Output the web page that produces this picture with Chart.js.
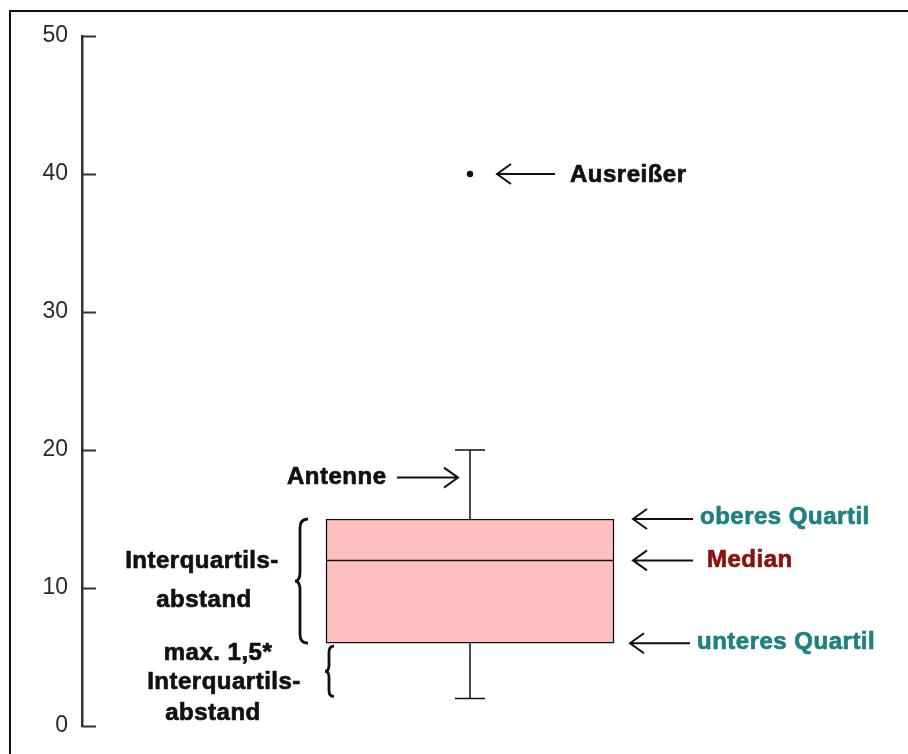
<!DOCTYPE html>
<html><head><meta charset="utf-8">
<script src="https://cdn.jsdelivr.net/npm/chart.js@4"></script>
<style>
html,body{margin:0;padding:0;background:#fff;overflow:hidden;}
#wrap{position:relative;width:908px;height:754px;overflow:hidden;}
#frame{position:absolute;left:9px;top:10px;width:1000px;height:1000px;border-left:2px solid #111;border-top:2px solid #111;pointer-events:none;}
canvas{position:absolute;left:0;top:0;}
</style></head>
<body><div id="wrap"><canvas id="c" width="908" height="754"></canvas><div id="frame"></div></div>
<script>
// ---- data ----
const categories = ['Daten'];
const minimum = [2];
const q1 = [6];
const median = [12];
const q3 = [15];
const maximum = [20];
const outliers = [40];
const yTicks = [0, 10, 20, 30, 40, 50];
// annotation labels and the values they point at
const rightLabels = ['oberes Quartil', 'Median', 'unteres Quartil'];
const rightValues = [15, 12, 6];
const outlierLabel = 'Ausreißer';
const whiskerLabel = 'Antenne';
const whiskerLabelValue = 18;
const iqrLabel = ['Interquartils-', 'abstand'];
const whiskerRangeLabel = ['max. 1,5*', 'Interquartils-', 'abstand'];

// ---- styles / layout ----
const TEAL = '#1f8080', DARKRED = '#8b1010', INK = '#111';
const BOLD = 'bold 24px "Liberation Sans", Arial, sans-serif';

function arrow(ctx, xTail, xHead, y) {
  const dir = Math.sign(xHead - xTail);
  ctx.beginPath();
  ctx.moveTo(xTail, y); ctx.lineTo(xHead, y);
  ctx.moveTo(xHead - dir * 14, y - 10); ctx.lineTo(xHead, y); ctx.lineTo(xHead - dir * 14, y + 10);
  ctx.stroke();
}
function brace(ctx, x, y1, y2, h, d, r) {
  const ym = (y1 + y2) / 2;
  ctx.beginPath();
  ctx.moveTo(x + h, y1);
  ctx.quadraticCurveTo(x, y1, x, y1 + r);
  ctx.lineTo(x, ym - r);
  ctx.quadraticCurveTo(x, ym, x - d, ym);
  ctx.quadraticCurveTo(x, ym, x, ym + r);
  ctx.lineTo(x, y2 - r);
  ctx.quadraticCurveTo(x, y2, x + h, y2);
  ctx.stroke();
}
function label(ctx, text, x, y, color) {
  ctx.fillStyle = color; ctx.strokeStyle = color;
  ctx.fillText(text, x, y);
  ctx.strokeText(text, x, y);
}

const boxPlugin = {
  id: 'boxExtras',
  afterDatasetsDraw(chart) {
    const ctx = chart.ctx;
    const ys = chart.scales.y;
    const bar = chart.getDatasetMeta(0).data[0];
    const cx = bar.x, half = bar.width / 2;
    const Y = v => ys.getPixelForValue(v);
    ctx.save();
    // whiskers
    ctx.strokeStyle = INK; ctx.lineWidth = 1.5;
    ctx.beginPath();
    ctx.moveTo(cx, Y(q3[0])); ctx.lineTo(cx, Y(maximum[0]));
    ctx.moveTo(cx - 15, Y(maximum[0])); ctx.lineTo(cx + 15, Y(maximum[0]));
    ctx.moveTo(cx, Y(q1[0])); ctx.lineTo(cx, Y(minimum[0]));
    ctx.moveTo(cx - 15, Y(minimum[0])); ctx.lineTo(cx + 15, Y(minimum[0]));
    // median
    ctx.moveTo(cx - half, Y(median[0])); ctx.lineTo(cx + half, Y(median[0]));
    ctx.stroke();
    // y tick marks (to the right of the axis)
    ctx.strokeStyle = '#333'; ctx.lineWidth = 2;
    ctx.beginPath();
    yTicks.forEach(v => { const y = Math.round(Y(v)) + 0.5; ctx.moveTo(ys.right, y); ctx.lineTo(ys.right + 14, y); });
    ctx.stroke();

    // annotation arrows
    ctx.strokeStyle = INK; ctx.lineWidth = 2;
    arrow(ctx, 555, 497, Y(outliers[0]));
    arrow(ctx, 397, 458, Y(whiskerLabelValue));
    rightValues.forEach((v, i) => arrow(ctx, i === 2 ? 690 : 693, i === 2 ? 630 : 633, Y(v)));
    // braces
    ctx.lineWidth = 2.8;
    brace(ctx, 300, Y(q3[0]), Y(q1[0]), 8, 5, 9);
    brace(ctx, 329, Y(q1[0]) + 3, Y(minimum[0]) - 2, 5, 4, 6);

    // annotation texts
    ctx.font = BOLD;
    ctx.letterSpacing = '0.5px';
    ctx.lineWidth = 0.7;
    ctx.textBaseline = 'alphabetic';
    ctx.textAlign = 'left';
    label(ctx, outlierLabel, 570, 182, INK);
    label(ctx, whiskerLabel, 287, 484, INK);
    label(ctx, rightLabels[0], 700, 524, TEAL);
    label(ctx, rightLabels[1], 707, 567, DARKRED);
    label(ctx, rightLabels[2], 697, 649, TEAL);
    ctx.textAlign = 'center';
    label(ctx, iqrLabel[0], 202, 568, INK);
    label(ctx, iqrLabel[1], 204, 607, INK);
    label(ctx, whiskerRangeLabel[0], 218, 660, INK);
    label(ctx, whiskerRangeLabel[1], 224, 689, INK);
    label(ctx, whiskerRangeLabel[2], 213, 720, INK);
    ctx.restore();
  }
};

new Chart(document.getElementById('c'), {
  type: 'bar',
  data: {
    labels: categories,
    datasets: [
      {
        type: 'bar',
        data: categories.map((c, i) => [q1[i], q3[i]]),
        backgroundColor: '#ffc0c0',
        borderColor: INK,
        borderWidth: 1.5,
        borderSkipped: false,
        barThickness: 288,
        order: 2
      },
      {
        type: 'line',
        data: outliers.map(v => ({ x: categories[0], y: v })),
        showLine: false,
        pointRadius: 3.2,
        pointBackgroundColor: INK,
        pointBorderWidth: 0,
        order: 1
      }
    ]
  },
  options: {
    responsive: false,
    animation: false,
    events: [],
    layout: { padding: { left: 0, top: 36, right: 50, bottom: 28 } },
    plugins: { legend: { display: false }, tooltip: { enabled: false } },
    scales: {
      x: { display: false },
      y: {
        min: 0, max: 50,
        afterBuildTicks: s => { s.ticks = yTicks.map(v => ({ value: v })); },
        afterFit: s => { s.width = 82; },
        grid: { display: false, drawTicks: false },
        border: { display: true, color: '#333', width: 2.5 },
        ticks: { padding: 14, color: '#2a2a2a', font: { family: '"Liberation Sans", Arial, sans-serif', size: 23 } }
      }
    }
  },
  plugins: [boxPlugin]
});
</script>
</body></html>
